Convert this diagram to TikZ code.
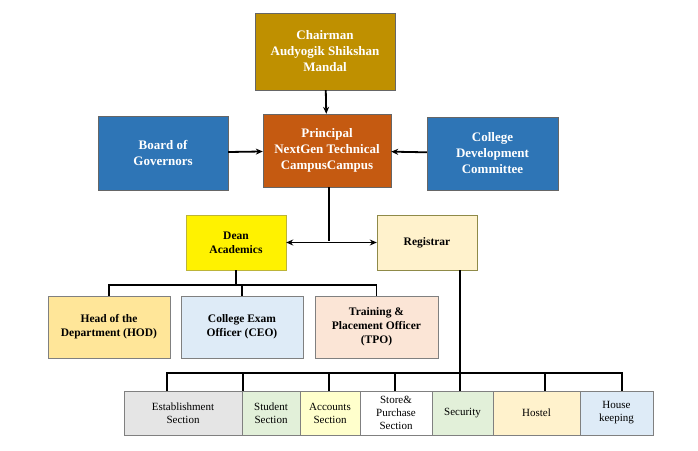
\documentclass[tikz,border=0pt]{standalone}
\usepackage{fontspec}
\setmainfont{Liberation Serif}
\usetikzlibrary{arrows.meta, positioning, calc}
\definecolor{gold}{HTML}{BF9000}
\definecolor{steel}{HTML}{2E75B6}
\definecolor{rust}{HTML}{C55A11}
\definecolor{cream}{HTML}{FFF2CC}
\definecolor{butter}{HTML}{FFE699}
\definecolor{ice}{HTML}{DEEBF7}
\definecolor{peach}{HTML}{FBE5D6}
\definecolor{mint}{HTML}{E2F0D9}
\definecolor{lemon}{HTML}{FFFFCC}
\begin{document}
\begin{tikzpicture}[
    x=1pt, y=-1pt,
    >={Stealth[length=7pt,width=6pt]},
    topbox/.style={draw=black!60, fill=#1, text=white, font=\bfseries\fontsize{13}{16}\selectfont, align=center, inner sep=0pt},
    midbox/.style={draw=black!50, fill=#1, font=\bfseries\fontsize{11.5}{14}\selectfont, align=center, inner sep=0pt},
    unit/.style={draw=black!50, fill=#1, font=\fontsize{11}{13}\selectfont, align=center, inner sep=0pt, minimum height=44pt},
    link/.style={line width=1.8pt}
]
\useasboundingbox (0,0) rectangle (698,450);

% Top level
\node (chair) [topbox=gold, minimum width=140pt, minimum height=77pt] at (325,51.5) {Chairman\\Audyogik Shikshan\\Mandal};
\node (prin) [topbox=rust, minimum width=128pt, minimum height=73pt] at (327,150.5) {Principal\\NextGen Technical\\CampusCampus};
\node (board) [topbox=steel, minimum width=130pt, minimum height=74pt] at (163,153) {Board of\\Governors};
\node (cdc) [topbox=steel, minimum width=131pt, minimum height=73pt] at (492.5,153.5) {College\\Development\\Committee};

\draw[link, ->] (chair) -- (prin);
\draw[link, ->] (board) -- (prin);
\draw[link, ->] (cdc) -- (prin);

% Second level
\node (dean) [midbox=yellow, draw=yellow!70!black, minimum width=100pt, minimum height=55pt] at (236,242.5) {Dean\\Academics};
\node (reg) [midbox=cream, draw=yellow!50!black, minimum width=100pt, minimum height=55pt] at (427,242.5) {Registrar};
\coordinate (hub) at (329,241);
\draw[link] (prin.south -| hub) -- (hub);
\draw[link, <->] (dean) -- (reg);

% Academic officers
\node (hod) [midbox=butter, minimum width=122pt, minimum height=62pt] at (109,327) {Head of the\\Department (HOD)};
\node (ceo) [midbox=ice, minimum width=122pt, minimum height=62pt] at (242,327) {College Exam\\Officer (CEO)};
\node (tpo) [midbox=peach, minimum width=123pt, minimum height=62pt] at (376.5,327) {Training \&\\Placement Officer\\(TPO)};
\coordinate (abus) at (236,285);
\draw[link] (dean) -- (abus);
\draw[link] (hod.north) |- (abus) -| (tpo.north);
\draw[link] (ceo.north) -- (ceo.north |- abus);

% Sections
\node (est) [unit={black!10}, minimum width=118pt] at (183,413) {Establishment\\Section};
\node (stu) [unit=mint, minimum width=58pt] at (271,413) {Student\\Section};
\node (acc) [unit=lemon, minimum width=60pt] at (330,413) {Accounts\\Section};
\node (sto) [unit=white, minimum width=72pt] at (396,413) {Store\&\\Purchase\\Section};
\node (sec) [unit=mint, minimum width=61pt] at (462.5,413) {Security};
\node (hos) [unit=cream, minimum width=87pt] at (536.5,413) {Hostel};
\node (hk) [unit=ice, minimum width=73pt] at (616.5,413) {House\\keeping};
\coordinate (sbus) at (460,373);
\draw[link] (reg.south -| sbus) -- (sbus);
\draw[link] (167,391) |- (sbus) -| (622,391);
\foreach \x in {243,329,395,460,545}
    \draw[link] (\x,373) -- (\x,391);

\end{tikzpicture}
\end{document}
